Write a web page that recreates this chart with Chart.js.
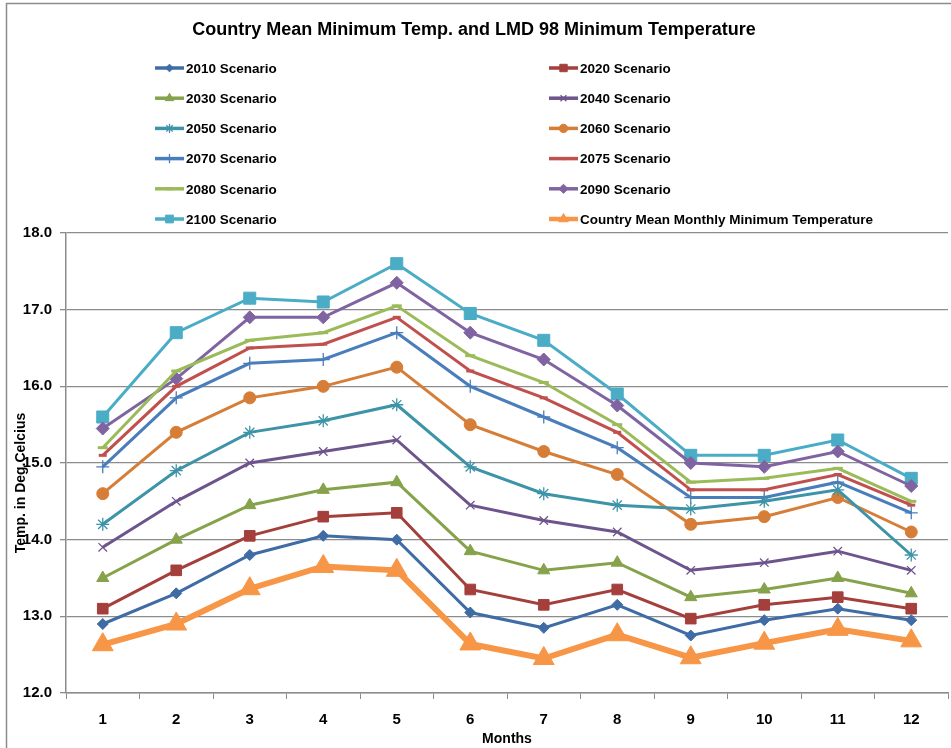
<!DOCTYPE html>
<html>
<head>
<meta charset="utf-8">
<script src="https://cdn.jsdelivr.net/npm/chart.js@4.4.1/dist/chart.umd.min.js"></script>
<style>
html,body{margin:0;padding:0;background:#fff;}
#wrap{width:951px;height:748px;position:relative;}
</style>
</head>
<body>
<div id="wrap"><canvas id="c" width="951" height="748"></canvas></div>
<script>
const months = ['1','2','3','4','5','6','7','8','9','10','11','12'];
const s2010 = [12.9, 13.3, 13.8, 14.05, 14.0, 13.05, 12.85, 13.15, 12.75, 12.95, 13.1, 12.95];
const s2020 = [13.1, 13.6, 14.05, 14.3, 14.35, 13.35, 13.15, 13.35, 12.97, 13.15, 13.25, 13.1];
const s2030 = [13.5, 14.0, 14.45, 14.65, 14.75, 13.85, 13.6, 13.7, 13.25, 13.35, 13.5, 13.3];
const s2040 = [13.9, 14.5, 15.0, 15.15, 15.3, 14.45, 14.25, 14.1, 13.6, 13.7, 13.85, 13.6];
const s2050 = [14.2, 14.9, 15.4, 15.55, 15.76, 14.95, 14.6, 14.45, 14.4, 14.5, 14.65, 13.8];
const s2060 = [14.6, 15.4, 15.85, 16.0, 16.25, 15.5, 15.15, 14.85, 14.2, 14.3, 14.55, 14.1];
const s2070 = [14.95, 15.85, 16.3, 16.35, 16.7, 16.0, 15.6, 15.2, 14.55, 14.55, 14.75, 14.35];
const s2075 = [15.1, 16.0, 16.5, 16.55, 16.9, 16.2, 15.85, 15.4, 14.65, 14.65, 14.85, 14.45];
const s2080 = [15.2, 16.2, 16.6, 16.7, 17.05, 16.4, 16.05, 15.5, 14.75, 14.8, 14.93, 14.5];
const s2090 = [15.45, 16.1, 16.9, 16.9, 17.35, 16.7, 16.35, 15.75, 15.0, 14.95, 15.15, 14.7];
const s2100 = [15.6, 16.7, 17.15, 17.1, 17.6, 16.95, 16.6, 15.9, 15.1, 15.1, 15.3, 14.8];
const countryMean = [12.63, 12.9, 13.36, 13.65, 13.6, 12.64, 12.45, 12.76, 12.46, 12.65, 12.83, 12.68];
const yTicks = [12.0, 13.0, 14.0, 15.0, 16.0, 17.0, 18.0];

const FONT = "'Liberation Sans', Arial, sans-serif";

function ds(label, data, color, style, radius, width, borderW) {
  return {
    label: label, data: data,
    borderColor: color, backgroundColor: color,
    pointBackgroundColor: color, pointBorderColor: color,
    pointStyle: style, pointRadius: radius, pointHoverRadius: radius,
    pointBorderWidth: borderW, borderWidth: width,
    tension: 0, fill: false
  };
}

const datasets = [
  ds('2010 Scenario', s2010, '#3F6CA5', 'rectRot', 5.5, 3, 1),
  ds('2020 Scenario', s2020, '#A43F3C', 'rect', 7.5, 3, 1),
  ds('2030 Scenario', s2030, '#86A24A', 'triangle', 7, 3, 1),
  ds('2040 Scenario', s2040, '#6E548C', 'crossRot', 6, 3, 1.3),
  ds('2050 Scenario', s2050, '#3D94A8', 'star', 6.5, 3, 1.3),
  ds('2060 Scenario', s2060, '#D67E37', 'circle', 6, 3, 1),
  ds('2070 Scenario', s2070, '#4A7EBB', 'cross', 6.5, 3, 1.3),
  ds('2075 Scenario', s2075, '#C0504D', 'line', 4, 3, 3),
  ds('2080 Scenario', s2080, '#9BBB59', 'line', 5, 3, 3),
  ds('2090 Scenario', s2090, '#8064A2', 'rectRot', 6.5, 3, 1),
  ds('2100 Scenario', s2100, '#4BACC6', 'rect', 8.5, 3, 1),
  ds('Country Mean Monthly Minimum Temperature', countryMean, '#F79646', 'triangle', 12, 6, 1)
];

function drawMarker(ctx, style, r, x, y, bw) {
  ctx.save();
  ctx.lineWidth = (style === 'line') ? 3 : bw;
  Chart.helpers.drawPoint(ctx, {pointStyle: style, rotation: 0, radius: r, borderWidth: ctx.lineWidth}, x, y);
  ctx.restore();
}

const framePlugin = {
  id: 'framePlugin',
  beforeDraw(chart) {
    const ctx = chart.ctx;
    ctx.save();
    ctx.fillStyle = '#fff';
    ctx.fillRect(0, 0, chart.width, chart.height);
    ctx.strokeStyle = '#8c8c8c';
    ctx.lineWidth = 1.5;
    ctx.beginPath();
    ctx.moveTo(951, 3.5); ctx.lineTo(6.5, 3.5); ctx.lineTo(6.5, 748);
    ctx.stroke();
    ctx.restore();
  },
  afterDraw(chart) {
    const ctx = chart.ctx;
    ctx.save();
    const dsets = chart.data.datasets;
    ctx.font = "bold 13.5px " + FONT;
    ctx.textBaseline = 'middle';
    ctx.textAlign = 'left';
    dsets.forEach((d, i) => {
      const col = i % 2, row = Math.floor(i / 2);
      const x0 = col === 0 ? 155 : 549;
      const y = 68 + row * 30.2;
      ctx.strokeStyle = d.borderColor;
      ctx.lineWidth = i === 11 ? 4.5 : 3.5;
      ctx.beginPath(); ctx.moveTo(x0, y); ctx.lineTo(x0 + 29, y); ctx.stroke();
      const r = Math.min(d.pointRadius * 0.7, 5.5);
      ctx.fillStyle = d.pointBackgroundColor;
      ctx.strokeStyle = d.pointBorderColor;
      drawMarker(ctx, d.pointStyle, r, x0 + 14.5, y, d.pointBorderWidth);
      ctx.fillStyle = '#000';
      ctx.fillText(d.label, x0 + 31, y + 1);
    });
    ctx.save();
    ctx.translate(21, 483);
    ctx.rotate(-Math.PI / 2);
    ctx.textAlign = 'center';
    ctx.textBaseline = 'middle';
    ctx.font = "bold 14px " + FONT;
    ctx.fillStyle = '#000';
    ctx.fillText('Temp. in Deg.Celcius', 0, 0);
    ctx.restore();
    ctx.restore();
  }
};

new Chart(document.getElementById('c'), {
  type: 'line',
  data: { labels: months, datasets: datasets },
  plugins: [framePlugin],
  options: {
    responsive: false,
    animation: false,
    layout: { autoPadding: false, padding: { left: 0, right: 3, top: 0, bottom: 0 } },
    plugins: {
      legend: { display: false },
      tooltip: { enabled: false },
      title: {
        display: true,
        text: 'Country Mean Minimum Temp. and LMD 98 Minimum Temperature',
        color: '#000',
        font: { family: FONT, size: 18, weight: 'bold', lineHeight: 1.2 },
        padding: { top: 19, bottom: 192.4 }
      }
    },
    scales: {
      x: {
        type: 'category',
        offset: true,
        grid: { display: true, drawOnChartArea: false, offset: true, drawTicks: true, tickLength: 6, color: '#8c8c8c', lineWidth: 1 },
        border: { display: true, color: '#8c8c8c', width: 1.5 },
        ticks: { color: '#000', font: { family: FONT, size: 15, weight: 'bold' }, padding: 12, maxRotation: 0 },
        title: { display: true, text: 'Months', color: '#000', font: { family: FONT, size: 14, weight: 'bold' }, padding: { top: -6, bottom: 0 } },
        afterFit(scale) { scale.height = 55; }
      },
      y: {
        min: 12, max: 18,
        afterBuildTicks(scale) { scale.ticks = yTicks.map(v => ({ value: v })); },
        grid: { display: true, drawOnChartArea: true, drawTicks: true, tickLength: 6, color: '#8c8c8c', lineWidth: 1.3 },
        border: { display: true, color: '#8c8c8c', width: 1.5 },
        ticks: { color: '#000', font: { family: FONT, size: 15, weight: 'bold' }, padding: 8,
          callback: v => Number(v).toFixed(1) },
        afterFit(scale) { scale.width = 66; }
      }
    }
  }
});
</script>
</body>
</html>
